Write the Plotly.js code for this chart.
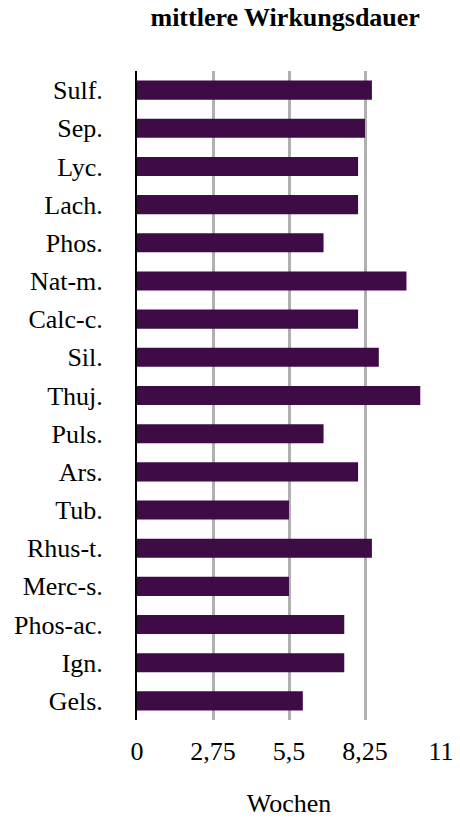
<!DOCTYPE html>
<html>
<head>
<meta charset="utf-8">
<script src="https://cdn.plot.ly/plotly-3.0.1.min.js"></script>
<style>
  html, body { margin: 0; padding: 0; background: #fff; }
  #chart { width: 460px; height: 818px; }
</style>
</head>
<body>
<div id="chart"></div>
<script>
var mittel = ["Sulf.", "Sep.", "Lyc.", "Lach.", "Phos.", "Nat-m.", "Calc-c.", "Sil.", "Thuj.",
              "Puls.", "Ars.", "Tub.", "Rhus-t.", "Merc-s.", "Phos-ac.", "Ign.", "Gels."];
var wochen = [8.5, 8.25, 8, 8, 6.75, 9.75, 8, 8.75, 10.25, 6.75, 8, 5.5, 8.5, 5.5, 7.5, 7.5, 6];
var tickWerte = [0, 2.75, 5.5, 8.25, 11];

var trace = {
  y: mittel,
  x: wochen,
  type: "bar",
  orientation: "h",
  marker: { color: "#3e0b47" },
  hoverinfo: "none"
};

var serif = "Liberation Serif";

var layout = {
  width: 460,
  height: 818,
  margin: { l: 137, r: 19, t: 71, b: 98 },
  paper_bgcolor: "#fff",
  plot_bgcolor: "#fff",
  separators: ",.",
  bargap: 0.5,
  showlegend: false,
  font: { family: serif, color: "#000" },
  title: {
    text: "<b>mittlere Wirkungsdauer</b>",
    font: { family: serif, size: 26, color: "#000" },
    x: 0.62, xanchor: "center",
    y: 0.979, yanchor: "middle"
  },
  xaxis: {
    range: [0, 11],
    tickvals: tickWerte,
    showgrid: true,
    gridcolor: "#b0b0b0",
    gridwidth: 3,
    zeroline: false,
    showline: false,
    ticks: "",
    ticklabelstandoff: 13,
    tickfont: { family: serif, size: 26, color: "#000" },
    title: {
      text: "Wochen",
      font: { family: serif, size: 26, color: "#000" },
      standoff: 32
    }
  },
  yaxis: {
    autorange: "reversed",
    showgrid: false,
    zeroline: false,
    showline: true,
    linecolor: "#000",
    linewidth: 2,
    ticks: "",
    ticklabelstandoff: 27,
    tickfont: { family: serif, size: 26, color: "#000" }
  }
};

Plotly.newPlot("chart", [trace], layout, { displayModeBar: false, staticPlot: true });
</script>
</body>
</html>
